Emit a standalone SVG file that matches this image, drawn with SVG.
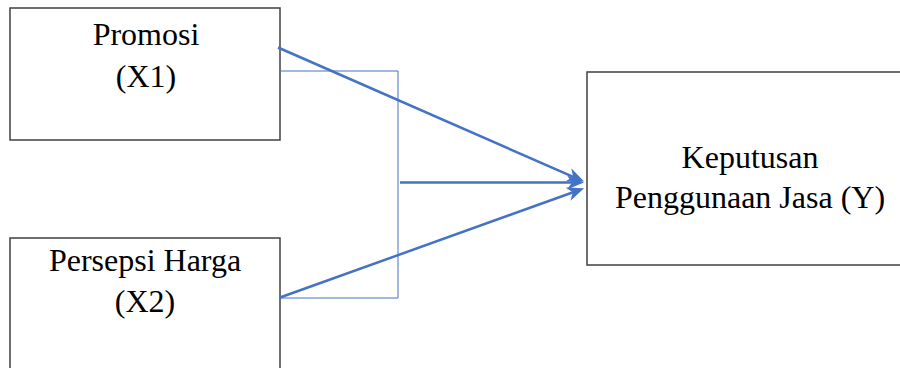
<svg xmlns="http://www.w3.org/2000/svg" width="900" height="368" viewBox="0 0 900 368">
  <style>
    .box { fill: #ffffff; stroke: #404040; stroke-width: 1.5; }
    .label { font-family: "Liberation Serif", "Times New Roman", serif; font-size: 32px; fill: #000000; text-anchor: middle; }
    .arrow { fill: none; stroke: #4472C4; stroke-width: 2.5; }
    .bracket { fill: none; stroke: #4472C4; stroke-width: 1; }
  </style>
  <defs>
    <marker id="head" markerUnits="userSpaceOnUse" markerWidth="20" markerHeight="16" refX="12" refY="7" orient="auto">
      <path d="M0,0 L17,7 L0,14 L5,7 Z" fill="#4472C4"/>
    </marker>
  </defs>
  <rect width="900" height="368" fill="#ffffff"/>

  <g id="promosi">
    <rect class="box" x="10" y="8" width="270" height="132"/>
    <text class="label" x="146" y="45">Promosi</text>
    <text class="label" x="146" y="87">(X1)</text>
  </g>

  <g id="persepsi-harga">
    <rect class="box" x="10" y="238" width="270" height="140"/>
    <text class="label" x="145" y="271">Persepsi Harga</text>
    <text class="label" x="145" y="312">(X2)</text>
  </g>

  <g id="keputusan">
    <rect class="box" x="587" y="72" width="330" height="193"/>
    <text class="label" x="750" y="168">Keputusan</text>
    <text class="label" x="750" y="208">Penggunaan Jasa (Y)</text>
  </g>

  <g id="connectors">
    <polyline class="bracket" points="280,71 398,71 398,298 280,298"/>
    <line class="arrow" x1="278" y1="47.5" x2="579.5" y2="179.6" marker-end="url(#head)"/>
    <line class="arrow" x1="400" y1="182.5" x2="579" y2="182.5" marker-end="url(#head)"/>
    <line class="arrow" x1="280" y1="297.5" x2="579.4" y2="190" marker-end="url(#head)"/>
  </g>
</svg>
